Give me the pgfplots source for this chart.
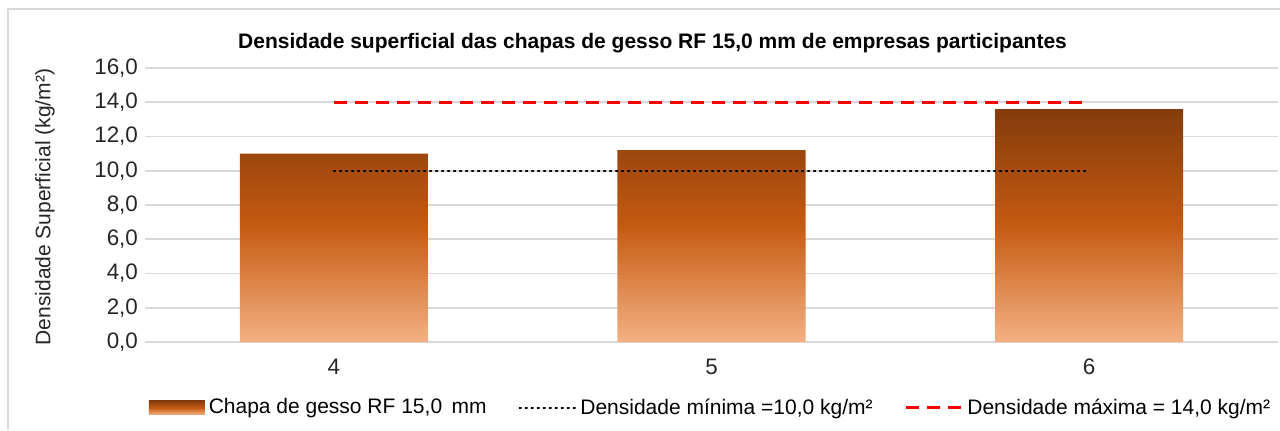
\documentclass[border=0pt]{standalone}
\usepackage{pgfplots}
\pgfplotsset{compat=1.18}
\usepackage{fontspec}
\setmainfont{Liberation Sans}
\definecolor{bdark}{HTML}{843C0C}
\definecolor{bmid}{HTML}{C55A11}
\definecolor{blight}{HTML}{F4B183}
\definecolor{gridc}{HTML}{D9D9D9}
\begin{document}
\begin{tikzpicture}[x=0.5pt,y=0.5pt]
\useasboundingbox (-145,-88) rectangle (1135,342);
\draw[gridc, line width=1.2pt] (-137,-88) -- (-137,333) -- (1135,333);
\begin{axis}[
  scale only axis,
  width=566.5pt, height=137pt,
  at={(0,0)}, anchor=south west,
  xmin=-0.5, xmax=2.5,
  ymin=0, ymax=16,
  ytick={0,2,...,16},
  xtick={0,1,2},
  xticklabels={4,5,6},
  ymajorgrids,
  grid style={gridc, line width=0.8pt},
  axis line style={draw=none},
  major tick length=0pt,
  tick label style={font=\fontsize{11.2}{12}\selectfont, text=black!85},
  yticklabel style={/pgf/number format/.cd, fixed, fixed zerofill, precision=1, use comma, assume math mode=true},
  xticklabel style={yshift=-5pt},
  title={\textbf{Densidade superficial das chapas de gesso RF 15,0 mm de empresas participantes}},
  title style={font=\fontsize{10.5}{12}\selectfont, at={(axis description cs:0.448,1)}, yshift=-2pt},
  legend columns=3,
  legend style={draw=none, font=\fontsize{10.5}{12}\selectfont, at={(axis description cs:0.5,-0.24)}, anchor=center, /tikz/every even column/.append style={column sep=14pt}},
  clip=false,
]
\addplot[ybar, bar width=94pt, draw=none, top color=bdark, bottom color=blight, middle color=bmid,
  legend image code/.code={\fill[top color=bdark, bottom color=blight, middle color=bmid] (0pt,-3.5pt) rectangle (28pt,3.5pt);}]
  coordinates {(0,11.0) (1,11.2) (2,13.6)};
\addlegendentry{Chapa de gesso RF 15,0\, mm}
\addplot[black, line width=0.9pt, dash pattern=on 0.8pt off 2.2pt, line cap=round,
  legend image code/.code={\draw[black, line width=0.9pt, dash pattern=on 0.8pt off 2.2pt] (0pt,0pt) -- (28pt,0pt);}]
  coordinates {(0,10) (2,10)};
\addlegendentry{Densidade mínima =10,0 kg/m²}
\addplot[red, line width=1.3pt, dash pattern=on 6.5pt off 4pt,
  legend image code/.code={\draw[red, line width=1.3pt, dash pattern=on 6.5pt off 4pt] (0pt,0pt) -- (28pt,0pt);}]
  coordinates {(0,14) (2,14)};
\addlegendentry{Densidade máxima = 14,0 kg/m²}
\end{axis}
\node[rotate=90, font=\fontsize{10.5}{12}\selectfont, text=black!85] at (-100,135) {Densidade Superficial (kg/m²)};
\end{tikzpicture}
\end{document}
